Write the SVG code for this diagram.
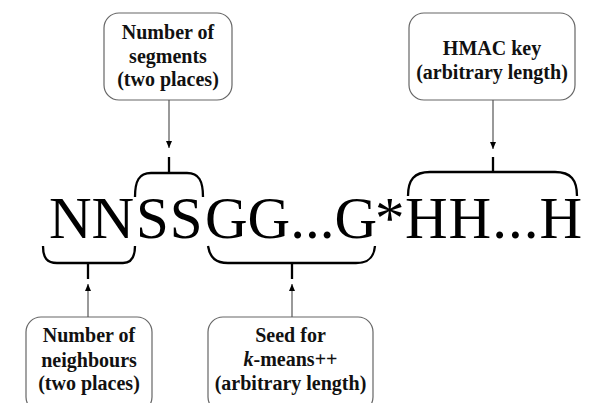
<svg xmlns="http://www.w3.org/2000/svg" width="589" height="403" viewBox="0 0 589 403">
<defs>
<marker id="ah" markerUnits="userSpaceOnUse" markerWidth="8" markerHeight="8" viewBox="0 0 8 8" refX="7" refY="4" orient="auto">
<path d="M0,1 L7,4 L0,7 Z" fill="#000"/>
</marker>
</defs>
<style>
.box{fill:#fff;stroke:#666;stroke-width:1.2}
.lbl{font-family:"Liberation Serif","Times New Roman",serif;font-weight:bold;font-size:20px;text-anchor:middle;fill:#111}
.arr{stroke:#555;stroke-width:1.2;fill:none;marker-end:url(#ah)}
.br{stroke:#000;stroke-width:2.3;fill:none}
.big{font-family:"Liberation Serif","Times New Roman",serif;font-size:59px;fill:#000}
</style>
<rect width="589" height="403" fill="#fff"/>
<g id="string">
<text class="big" y="238"><tspan x="49">NN</tspan><tspan x="136" letter-spacing="1">SS</tspan><tspan x="205">GG...G</tspan><tspan x="375">*</tspan><tspan x="405" letter-spacing="1">HH...H</tspan></text>
</g>
<g id="node-segments">
<rect class="box" x="104" y="13" width="128" height="87" rx="15"/>
<text class="lbl" x="168" y="38.5">Number of</text>
<text class="lbl" x="168" y="62.5">segments</text>
<text class="lbl" x="168" y="85.5">(two places)</text>
</g>
<g id="node-hmac">
<rect class="box" x="409" y="13" width="166" height="87" rx="15"/>
<text class="lbl" x="492" y="55">HMAC key</text>
<text class="lbl" x="492" y="79">(arbitrary length)</text>
</g>
<g id="node-neighbours">
<rect class="box" x="26" y="317" width="126" height="95" rx="15"/>
<text class="lbl" x="89" y="342">Number of</text>
<text class="lbl" x="89" y="366.5">neighbours</text>
<text class="lbl" x="89" y="390">(two places)</text>
</g>
<g id="node-seed">
<rect class="box" x="208" y="317" width="165" height="95" rx="15"/>
<text class="lbl" x="290.5" y="342">Seed for</text>
<text class="lbl" x="290.5" y="365.5"><tspan font-style="italic">k</tspan>-means++</text>
<text class="lbl" x="290.5" y="390">(arbitrary length)</text>
</g>
<g id="connectors">
<path class="arr" d="M169,100 V148"/>
<path class="arr" d="M493,100 V149"/>
<path class="arr" d="M88,317 V284"/>
<path class="arr" d="M292,317 V284"/>
<path class="br" d="M135,197 C135,181 139,173 151,173 H187 C199,173 203,181 203,197"/>
<path class="br" d="M169,157 V173"/>
<path class="br" d="M408,196 C408,180 414,172 430,172 H555 C571,172 577,180 577,196"/>
<path class="br" d="M493,157 V172"/>
<path class="br" d="M43,246 C43,258 47,263 57,263 H123 C131,263 135,258 135,246"/>
<path class="br" d="M88,263 V279"/>
<path class="br" d="M208,246 C210,258 216,263 228,263 H356 C368,263 374,258 375,246"/>
<path class="br" d="M292,263 V279"/>
</g>
</svg>
